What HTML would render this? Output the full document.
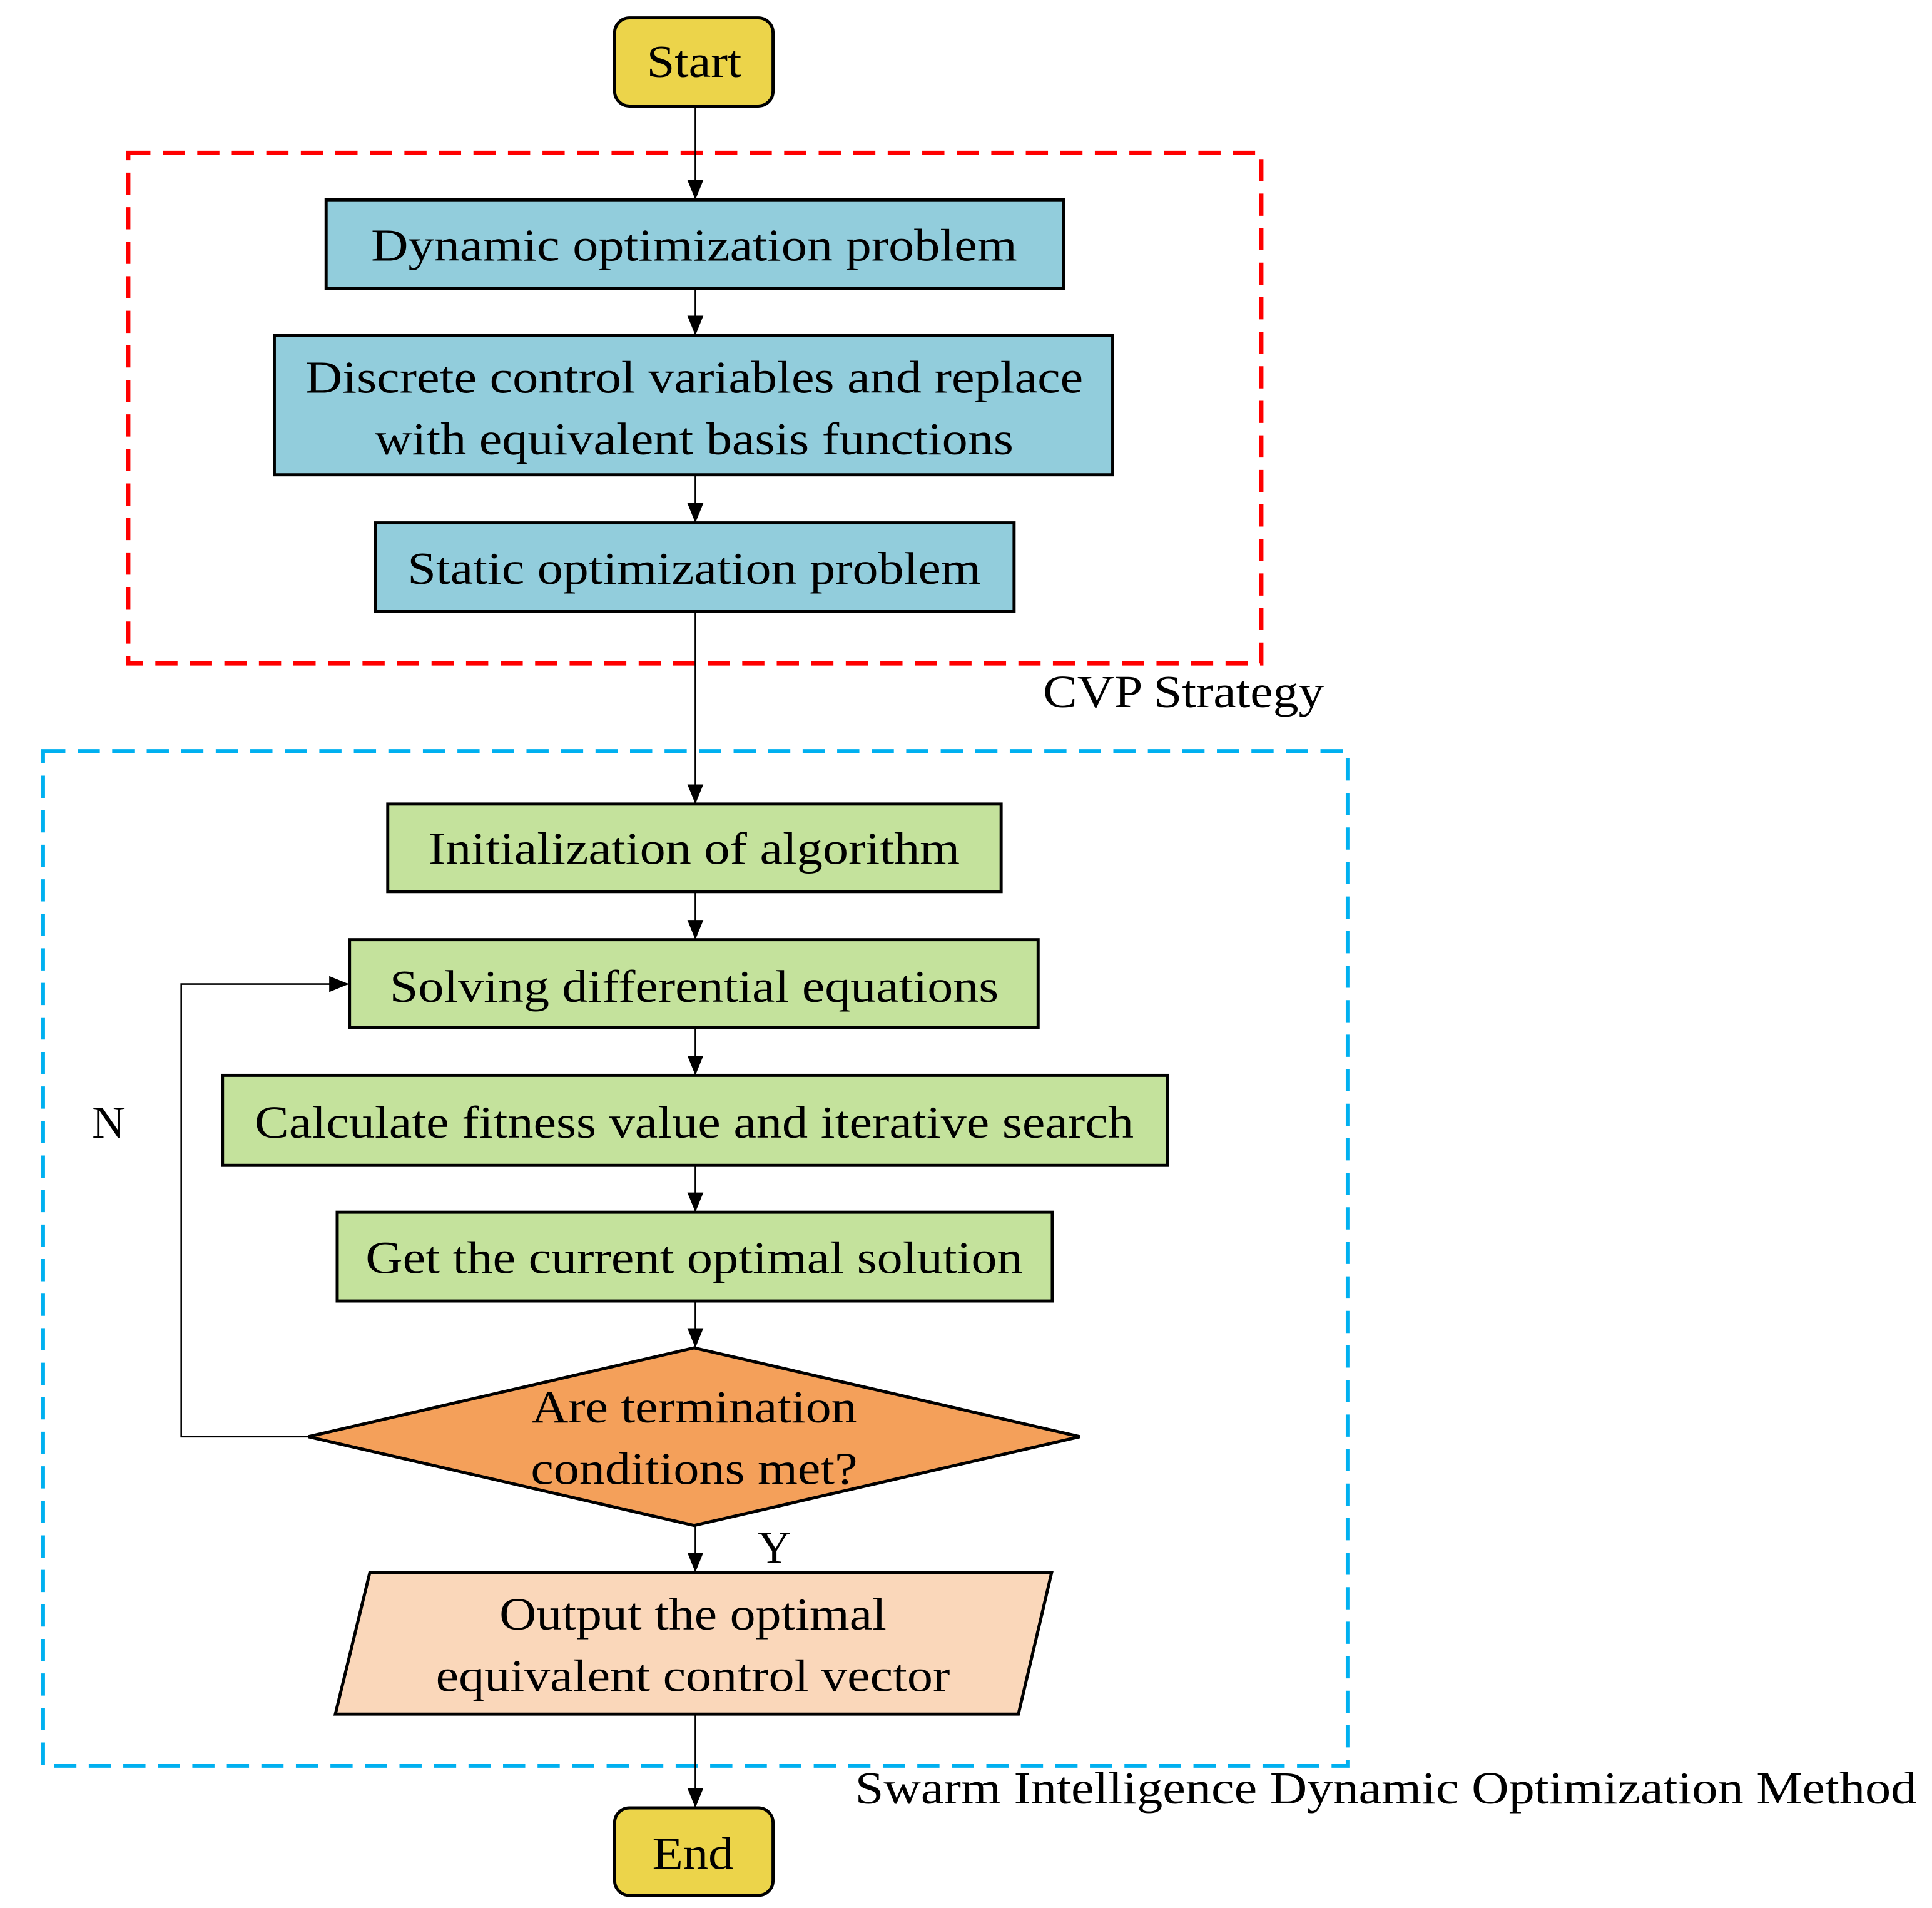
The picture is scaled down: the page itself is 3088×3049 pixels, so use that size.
<!DOCTYPE html>
<html><head><meta charset="utf-8"><style>
html,body{margin:0;padding:0;background:#fff;}
svg{display:block;}
text{font-family:"Liberation Serif",serif;font-size:37px;fill:#000;dominant-baseline:central;text-anchor:middle;}
</style></head><body>
<svg width="3088" height="3049" viewBox="0 0 1567 1547.2" preserveAspectRatio="none" xmlns="http://www.w3.org/2000/svg">
<defs>
<marker id="a" markerWidth="16" markerHeight="13" refX="15" refY="6.5" orient="auto" markerUnits="userSpaceOnUse" viewBox="0 0 16 13">
<path d="M0,0 L16,6.5 L0,13 z" fill="#000"/>
</marker>
</defs>
<rect x="0" y="0" width="1567" height="1547.2" fill="#fff"/>
<rect x="104" y="124" width="919" height="414" fill="none" stroke="#ff0000" stroke-width="3.5" stroke-dasharray="18,10"/>
<rect x="35" y="609" width="1058" height="823" fill="none" stroke="#00b0f0" stroke-width="3" stroke-dasharray="18,10"/>

<g stroke="#000" stroke-width="1.3" fill="none" marker-end="url(#a)">
<line x1="564" y1="86" x2="564" y2="161"/>
<line x1="564" y1="234" x2="564" y2="271"/>
<line x1="564" y1="385" x2="564" y2="423"/>
<line x1="564" y1="496" x2="564" y2="651"/>
<line x1="564" y1="723" x2="564" y2="761"/>
<line x1="564" y1="833" x2="564" y2="871"/>
<line x1="564" y1="945" x2="564" y2="982"/>
<line x1="564" y1="1055" x2="564" y2="1092"/>
<line x1="564" y1="1237" x2="564" y2="1274"/>
<line x1="564" y1="1390" x2="564" y2="1465"/>
<polyline points="250,1165 147,1165 147,798 282,798"/>
</g>

<rect x="498.5" y="14.5" width="128.5" height="71.5" rx="12" fill="#ecd44a" stroke="#000" stroke-width="2.5"/>
<text x="563" y="50" textLength="77" lengthAdjust="spacingAndGlyphs">Start</text>

<rect x="264.5" y="162" width="598" height="72" fill="#92cddc" stroke="#000" stroke-width="2.5"/>
<text x="563" y="199" textLength="524" lengthAdjust="spacingAndGlyphs">Dynamic optimization problem</text>

<rect x="222.5" y="272" width="680" height="113" fill="#92cddc" stroke="#000" stroke-width="2.5"/>
<text x="563" y="306" textLength="631" lengthAdjust="spacingAndGlyphs">Discrete control variables and replace</text>
<text x="563" y="356" textLength="518" lengthAdjust="spacingAndGlyphs">with equivalent basis functions</text>

<rect x="304.5" y="424" width="518" height="72" fill="#92cddc" stroke="#000" stroke-width="2.5"/>
<text x="563" y="461" textLength="465" lengthAdjust="spacingAndGlyphs">Static optimization problem</text>

<text x="960" y="561" textLength="228" lengthAdjust="spacingAndGlyphs">CVP Strategy</text>

<rect x="314.5" y="652" width="497.5" height="71" fill="#c4e29c" stroke="#000" stroke-width="2.5"/>
<text x="563" y="688" textLength="431" lengthAdjust="spacingAndGlyphs">Initialization of algorithm</text>

<rect x="283.5" y="762" width="558.5" height="71" fill="#c4e29c" stroke="#000" stroke-width="2.5"/>
<text x="563" y="800" textLength="494" lengthAdjust="spacingAndGlyphs">Solving differential equations</text>

<rect x="180.5" y="872" width="766.5" height="73" fill="#c4e29c" stroke="#000" stroke-width="2.5"/>
<text x="563" y="910" textLength="713" lengthAdjust="spacingAndGlyphs">Calculate fitness value and iterative search</text>

<rect x="273.5" y="983" width="580" height="72" fill="#c4e29c" stroke="#000" stroke-width="2.5"/>
<text x="563" y="1020" textLength="533" lengthAdjust="spacingAndGlyphs">Get the current optimal solution</text>

<polygon points="250,1165 563,1093 876,1165 563,1237" fill="#f4a05a" stroke="#000" stroke-width="2.5"/>
<text x="563" y="1141" textLength="264" lengthAdjust="spacingAndGlyphs">Are termination</text>
<text x="563" y="1191" textLength="265" lengthAdjust="spacingAndGlyphs">conditions met?</text>

<text x="88" y="910">N</text>
<text x="628" y="1255">Y</text>

<polygon points="300,1275 853,1275 826,1390 272,1390" fill="#fad7ba" stroke="#000" stroke-width="2.5"/>
<text x="562" y="1309" textLength="314" lengthAdjust="spacingAndGlyphs">Output the optimal</text>
<text x="562" y="1359" textLength="417" lengthAdjust="spacingAndGlyphs">equivalent control vector</text>

<text x="1124" y="1450" textLength="861" lengthAdjust="spacingAndGlyphs">Swarm Intelligence Dynamic Optimization Method</text>

<rect x="498.5" y="1466" width="128.5" height="71" rx="12" fill="#ecd44a" stroke="#000" stroke-width="2.5"/>
<text x="562" y="1503" textLength="66" lengthAdjust="spacingAndGlyphs">End</text>
</svg>
</body></html>
